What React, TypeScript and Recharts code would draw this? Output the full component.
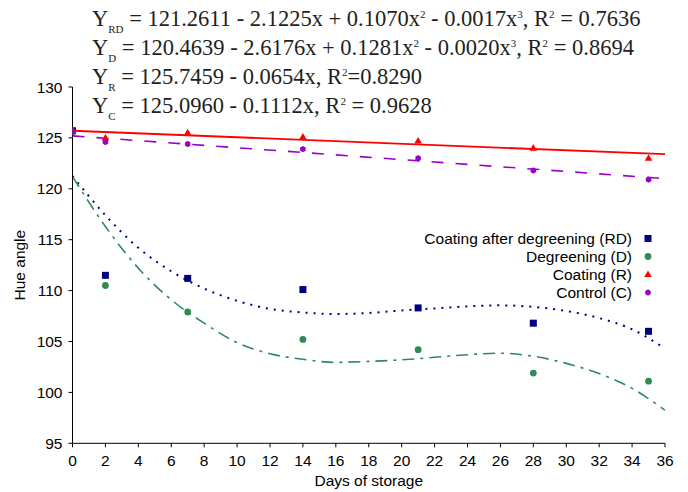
import { ComposedChart, Line, Scatter, XAxis, YAxis } from 'recharts';

// observed hue angle values
const days = [0, 2, 7, 14, 21, 28, 35];
const rdHue = [125.7, 111.5, 111.2, 110.1, 108.3, 106.8, 106.0];
const dHue = [125.6, 110.5, 107.9, 105.2, 104.2, 101.9, 101.1];
const rHue = [125.8, 125.0, 125.5, 125.1, 124.7, 124.0, 123.0];
const cHue = [125.6, 124.6, 124.4, 123.9, 123.0, 121.8, 120.9];

// fitted curves
const fitDays = [0, 2, 4, 6, 8, 10, 12, 14, 16, 18, 20, 22, 24, 26, 28, 30, 32, 34, 36];
const rdFit = [121.25, 117.4, 114.2, 111.9, 110.2, 109.0, 108.2, 107.85, 107.7, 107.8, 108.05, 108.25, 108.45, 108.55, 108.4, 108.0, 107.3, 106.2, 104.3];
const dFit = [121.2, 116.3, 112.2, 109.1, 106.8, 104.9, 103.8, 103.25, 102.95, 103.05, 103.2, 103.45, 103.7, 103.85, 103.55, 102.85, 101.85, 100.4, 98.25];
const lineDays = [0, 36];
const rFit = [125.7, 123.4];
const cFit = [125.2, 121.0];

const xTicks = [0, 2, 4, 6, 8, 10, 12, 14, 16, 18, 20, 22, 24, 26, 28, 30, 32, 34, 36];
const yTicks = [95, 100, 105, 110, 115, 120, 125, 130];

const legendLabels = ['Coating after degreening (RD)', 'Degreening (D)', 'Coating (R)', 'Control (C)'];

type Seg = [string, 'n' | 'sub' | 'sup'];
const equations: Seg[][] = [
  [['Y', 'n'], ['RD', 'sub'], [' = 121.2611 - 2.1225x + 0.1070x', 'n'], ['2', 'sup'], [' - 0.0017x', 'n'], ['3', 'sup'], [', R', 'n'], ['2', 'sup'], [' = 0.7636', 'n']],
  [['Y', 'n'], ['D', 'sub'], [' = 120.4639 - 2.6176x + 0.1281x', 'n'], ['2', 'sup'], [' - 0.0020x', 'n'], ['3', 'sup'], [', R', 'n'], ['2', 'sup'], [' = 0.8694', 'n']],
  [['Y', 'n'], ['R', 'sub'], [' = 125.7459 - 0.0654x, R', 'n'], ['2', 'sup'], ['=0.8290', 'n']],
  [['Y', 'n'], ['C', 'sub'], [' = 125.0960 - 0.1112x, R', 'n'], ['2', 'sup'], [' = 0.9628', 'n']],
];

const NAVY = '#000080';
const GREEN = '#2E8B57';
const RED = '#FF0000';
const PURPLE = '#9900CC';

const FONT = '"Liberation Sans", Arial, sans-serif';

const pts = (xs: number[], ys: number[]) => xs.map((x, i) => ({ x, y: ys[i] }));

const square = (fill: string) => (p: any) => <rect x={p.cx - 3.5} y={p.cy - 3.5} width={7} height={7} fill={fill} />;
const circle = (fill: string) => (p: any) => <circle cx={p.cx} cy={p.cy} r={3.4} fill={fill} />;
const triangle = (fill: string) => (p: any) => (
  <polygon points={`${p.cx},${p.cy - 4} ${p.cx - 3.8},${p.cy + 2.6} ${p.cx + 3.8},${p.cy + 2.6}`} fill={fill} />
);
const hexagon = (fill: string) => (p: any) => {
  const r = 3.2;
  const s = [0, 1, 2, 3, 4, 5].map(k => {
    const a = (Math.PI / 3) * k + Math.PI / 6;
    return `${p.cx + r * Math.cos(a)},${p.cy + r * Math.sin(a)}`;
  });
  return <polygon points={s.join(' ')} fill={fill} />;
};

const markers = [square(NAVY), circle(GREEN), triangle(RED), hexagon(PURPLE)];

function Equation({ segs, y }: { segs: Seg[]; y: number }) {
  let off = 0;
  return (
    <text x={92} y={y} fontFamily='"Liberation Serif", "Times New Roman", serif' fontSize={22.5} fill="#231F20">
      {segs.map(([t, kind], i) => {
        const target = kind === 'sub' ? 7 : kind === 'sup' ? -8.5 : 0;
        const dy = target - off;
        off = target;
        return (
          <tspan key={i} dy={dy} fontSize={kind === 'n' ? 22.5 : 11}>
            {t}
          </tspan>
        );
      })}
    </text>
  );
}

export default function App() {
  return (
    <div style={{ position: 'absolute', left: 0, top: 0, width: 688, height: 492, background: '#fff' }}>
      <ComposedChart width={688} height={492} margin={{ top: 87, right: 23, bottom: 0, left: 12.5 }}>
        <XAxis
          type="number"
          dataKey="x"
          domain={[0, 36]}
          ticks={xTicks}
          interval={0}
          allowDataOverflow
          stroke="#000"
          tickSize={4}
          tickMargin={8}
          tick={{ fill: '#000', fontSize: 15.5, fontFamily: FONT }}
          height={48.7}
          label={{ value: 'Days of storage', position: 'insideBottom', offset: 6, fill: '#000', fontSize: 15.5, fontFamily: FONT }}
        />
        <YAxis
          type="number"
          dataKey="y"
          domain={[95, 130]}
          ticks={yTicks}
          interval={0}
          allowDataOverflow
          width={60}
          stroke="#000"
          tickSize={4}
          tickMargin={6}
          tick={{ fill: '#000', fontSize: 15.5, fontFamily: FONT }}
          label={{ value: 'Hue angle', angle: -90, position: 'insideLeft', offset: 7.5, fill: '#000', fontSize: 15.5, fontFamily: FONT, style: { textAnchor: 'middle' } }}
        />
        <Line data={pts(fitDays, rdFit)} dataKey="y" type="monotone" stroke={NAVY} strokeWidth={2} strokeDasharray="2 6" dot={false} activeDot={false} isAnimationActive={false} />
        <Line data={pts(fitDays, dFit)} dataKey="y" type="monotone" stroke={GREEN} strokeWidth={1.6} strokeDasharray="12 6 3 6" dot={false} activeDot={false} isAnimationActive={false} />
        <Line data={pts(lineDays, rFit)} dataKey="y" type="linear" stroke={RED} strokeWidth={1.8} dot={false} activeDot={false} isAnimationActive={false} />
        <Line data={pts(lineDays, cFit)} dataKey="y" type="linear" stroke={PURPLE} strokeWidth={1.6} strokeDasharray="12 12" dot={false} activeDot={false} isAnimationActive={false} />
        <Scatter data={pts(days, rdHue)} dataKey="y" shape={square(NAVY)} isAnimationActive={false} />
        <Scatter data={pts(days, dHue)} dataKey="y" shape={circle(GREEN)} isAnimationActive={false} />
        <Scatter data={pts(days, rHue)} dataKey="y" shape={triangle(RED)} isAnimationActive={false} />
        <Scatter data={pts(days, cHue)} dataKey="y" shape={hexagon(PURPLE)} isAnimationActive={false} />
      </ComposedChart>
      <svg width={688} height={492} style={{ position: 'absolute', left: 0, top: 0, pointerEvents: 'none' }}>
        {equations.map((segs, i) => (
          <Equation key={i} segs={segs} y={26.2 + i * 29} />
        ))}
        {legendLabels.map((label, i) => (
          <g key={label}>
            <text x={632} y={244 + i * 18} textAnchor="end" fontFamily={FONT} fontSize={15.5} fill="#000">
              {label}
            </text>
            {markers[i]({ cx: 648, cy: 238.5 + i * 18 })}
          </g>
        ))}
      </svg>
    </div>
  );
}
